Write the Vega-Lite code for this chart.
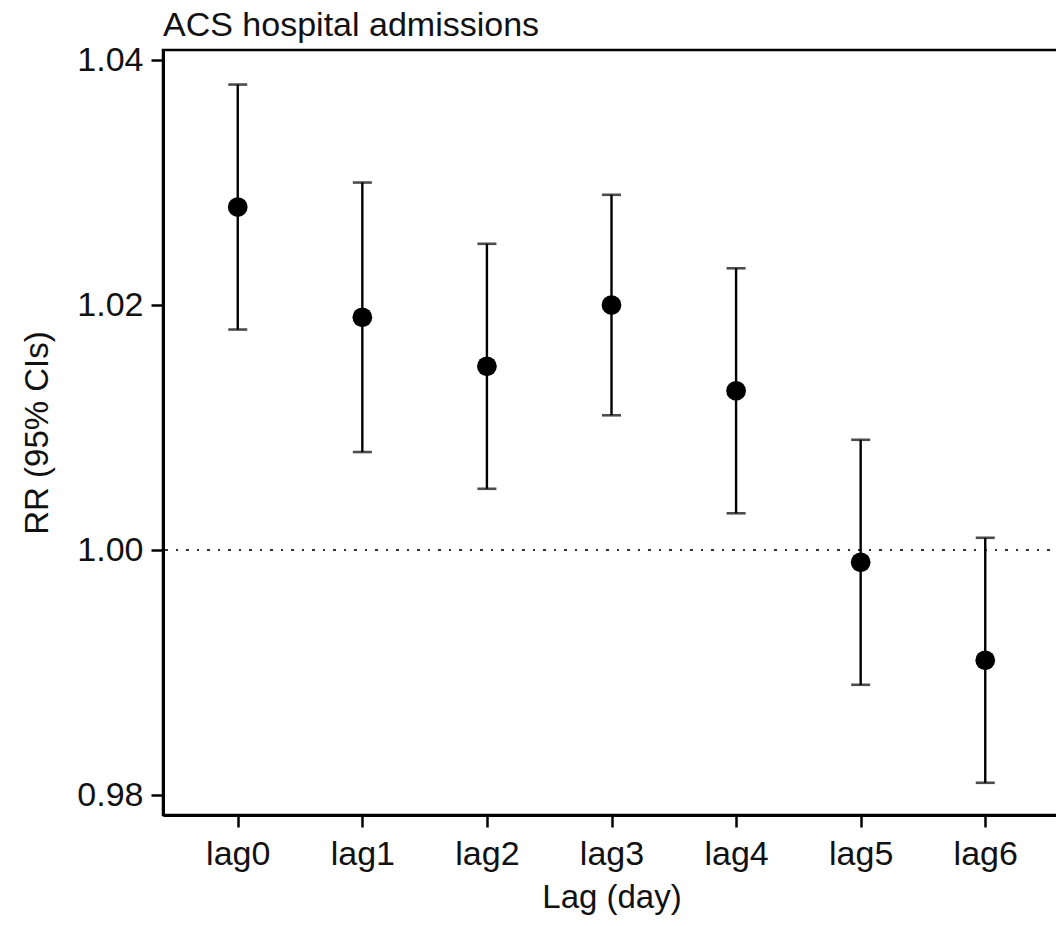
{
  "$schema": "https://vega.github.io/schema/vega-lite/v6.json",
  "width": 897,
  "height": 765,
  "autosize": {"type": "none"},
  "padding": {"left": 163, "top": 50, "right": 0, "bottom": 111},
  "background": "white",
  "config": {
    "font": "Liberation Sans",
    "view": {"stroke": "black", "strokeWidth": 2.5},
    "axis": {"grid": false, "domainColor": "black", "domainWidth": 3, "tickColor": "black", "tickWidth": 2.5, "tickSize": 12, "labelColor": "#111", "titleColor": "#111", "labelFont": "Liberation Sans", "titleFont": "Liberation Sans", "labelFontSize": 34, "titleFontSize": 33, "titleFontWeight": "normal"}
  },
  "title": {"text": "ACS hospital admissions", "anchor": "start", "frame": "group", "fontSize": 34, "fontWeight": "normal", "font": "Liberation Sans", "color": "#111", "offset": 0},
  "data": {"values": [
    {"lag": "lag0", "rr": 1.028, "lo": 1.018, "hi": 1.038},
    {"lag": "lag1", "rr": 1.019, "lo": 1.008, "hi": 1.030},
    {"lag": "lag2", "rr": 1.015, "lo": 1.005, "hi": 1.025},
    {"lag": "lag3", "rr": 1.020, "lo": 1.011, "hi": 1.029},
    {"lag": "lag4", "rr": 1.013, "lo": 1.003, "hi": 1.023},
    {"lag": "lag5", "rr": 0.999, "lo": 0.989, "hi": 1.009},
    {"lag": "lag6", "rr": 0.991, "lo": 0.981, "hi": 1.001}
  ]},
  "encoding": {
    "x": {"field": "lag", "type": "nominal", "scale": {"type": "point", "padding": 0.6}, "axis": {"title": "Lag (day)", "labelAngle": 0, "labelPadding": 10, "titlePadding": 10}}
  },
  "layer": [
    {
      "mark": {"type": "rule", "color": "#333", "strokeWidth": 2, "strokeDash": [2, 8.5]},
      "encoding": {"x": null, "y": {"datum": 1.0, "type": "quantitative"}}
    },
    {
      "mark": {"type": "rule", "color": "black", "strokeWidth": 2.4},
      "encoding": {
        "y": {"field": "lo", "type": "quantitative", "scale": {"domain": [0.97837, 1.04082], "nice": false, "zero": false}, "axis": {"title": "RR (95% CIs)", "values": [0.98, 1.0, 1.02, 1.04], "format": ".2f", "labelPadding": 8, "titlePadding": 22}},
        "y2": {"field": "hi"}
      }
    },
    {
      "mark": {"type": "tick", "color": "black", "size": 19, "thickness": 2.6},
      "encoding": {"y": {"field": "hi", "type": "quantitative"}}
    },
    {
      "mark": {"type": "tick", "color": "black", "size": 19, "thickness": 2.6},
      "encoding": {"y": {"field": "lo", "type": "quantitative"}}
    },
    {
      "mark": {"type": "circle", "color": "black", "opacity": 1, "size": 390},
      "encoding": {"y": {"field": "rr", "type": "quantitative"}}
    }
  ]
}
